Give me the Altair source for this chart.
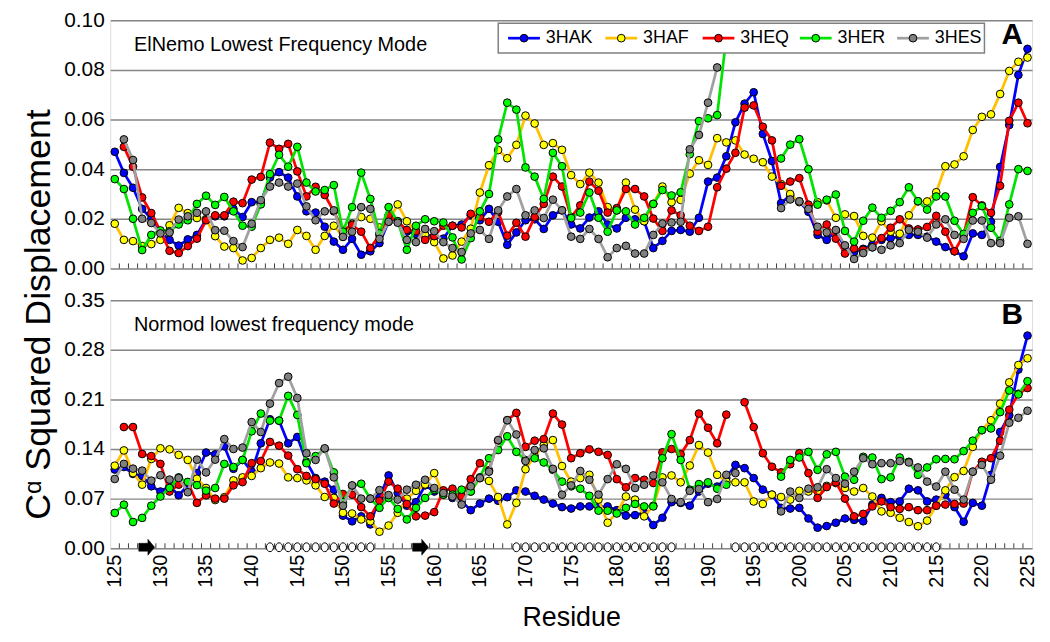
import altair as alt
import pandas as pd

residues = list(range(125, 226))
series_names = ["3HAK", "3HAF", "3HEQ", "3HER", "3HES"]
line_colors = ["#0000FF", "#FFC000", "#FF0000", "#00E400", "#A0A0A0"]
fill_colors = ["#0000FF", "#FFFF00", "#FF0000", "#00FF00", "#808080"]

N = None
# ---------------- Panel A : ElNemo lowest frequency mode ----------------
a_3HAK = [.047, .0385, .0325, .024, .020, .0145, .0115, .0092, .0117, .0135,
          .0198, .021, .021, .024, .0207, .0267, .0267, .0366, .0388, .0366,
          .029, .023, .0225, .0168, .0108, .0075, .0119, .0055, .0069, .0102,
          .0188, .019, .0148, .0139, .0135, .0128, .012, .0172, .0177, .0214,
          .0194, .024, .0188, .0095, .0145, .0194, .0198, .0159, .0214, .0234,
          .0177, .0161, .0205, .023, .0177, .0161, .0204, .0198, .019, .0082,
          .0111, .0151, .0155, .0148, .0204, .035, .0366, .0452, .0589, .0664,
          .071, .0542, .0433, .0263, .0294, .027, .0228, .0135, .0115, .0152,
          .0082, .0066, .0079, .0095, .0115, .0122, .0128, .0135, .0135, .0128,
          .0108, .0086, .0069, .0049, .0141, .0135, .0188, .0409, .0578, .078,
          .0885]
a_3HAF = [.018, .0115, .011, .009, .0098, .0115, .0174, .0244, .0223, .0203,
          .0198, .013, .0088, .0082, .0032, .0042, .0082, .0115, .0124, .0099,
          .0155, .0131, .0075, .0131, .0172, .0128, .018, .0207, .020, .0165,
          .019, .0258, .019, .015, .0135, .0106, .004, .0052, .0108, .016,
          .0306, .0416, .0477, .0444, .0498, .0616, .0584, .0498, .0505, .0478,
          .0376, .034, .0386, .0346, .0247, .0234, .0346, .0237, .019, .026,
          .033, .0267, .0276, .0382, .0436, .0417, .0525, .0508, .0516, .0459,
          .0442, .0428, .037, .034, .030, .0267, .025, .0267, .0274, .0204,
          .0218, .0211, .0131, .0124, .019, .0148, .014, .0214, .027, .027,
          .0307, .0412, .0419, .0452, .0558, .0611, .0621, .0703, .0796, .0833,
          .085]
a_3HEQ = [N, .049, .041, .0286, .0223, .015, .0071, .0062, .009, .012,
          .0194, .0214, .0214, .0269, .0263, .0358, .0369, .0507, .0482, .0502,
          .0391, .029, .0329, .0296, .023, .0155, .0175, .0148, .0082, .0135,
          .0214, .0188, .0155, .015, .0115, .013, .0172, .0172, .0165, .022,
          .0207, .0188, .0227, .0132, .0184, .0128, .0207, .026, .037, .033,
          .0207, .0254, .035, .0313, .0225, .0243, .032, .032, .029, .0201,
          .0151, .0234, .0214, .0172, .0151, .0168, .0327, .0402, .0466, .0648,
          .0657, .0571, .0516, .0333, .035, .0364, .0257, .0148, .0177, .012,
          .006, .008, .0075, .0085, .0122, .0164, .0198, .0161, .0157, .0167,
          .0212, .0148, .0069, .0135, .0287, .0254, .0224, .0333, .0595, .0668,
          .0585]
a_3HER = [.036, .032, .020, .0074, .0135, .0153, .015, .0177, .0194, .026,
          .0293, .0256, .0288, .023, .0172, .0168, .0258, .038, .0458, .041,
          .049, .0346, .031, .0316, .0336, .0148, .0247, .0386, .028, .0141,
          .0247, .019, .0075, .0172, .0198, .019, .0185, .0125, .0036, .0122,
          .023, .030, .052, .0668, .064, .0407, .037, .028, .0466, .0412,
          .0203, .0225, .0306, .0204, .0148, .0234, .023, .0177, .0204, .026,
          .0316, .0294, .0307, .046, .0594, .0605, .0618, .093, N, N,
          N, N, N, .0443, .0499, .0521, .040, .0257, .0277, .0298,
          .0151, .0108, .0192, .0245, .0204, .0232, .0267, .0327, .0271, .0237,
          .029, .029, .0192, .0139, .0224, .0251, .0164, .0111, .0258, .040,
          .0393]
a_3HES = [N, .052, .0437, .020, .0183, .0141, .0145, .0197, .021, .0224,
          .023, .0154, .0152, .011, .0086, .018, .0275, .033, .0346, .033,
          .0342, .025, .0194, .023, .0234, .0127, .0148, .0247, .024, .0119,
          .0188, .0184, .0115, .0106, .0159, .015, .0106, .0082, .0066, .0141,
          .0155, .0119, .0234, .029, .032, .0214, .0234, .0203, .0277, .0234,
          .0128, .0119, .0159, .0119, .0045, .0082, .0091, .006, .006, .0135,
          .0181, .0185, .0188, .048, .0538, .0668, .081, N, N, N,
          N, N, N, .0243, .0278, .027, .024, .0168, .0145, .0155,
          .0093, .0038, .0062, .0085, .0075, .0093, .0102, .0155, .0148, .0124,
          .0177, .0198, .0135, .0119, .0193, .0193, .0102, .0102, .0204, .021,
          .0099]

# ---------------- Panel B : Normod lowest frequency mode ----------------
b_3HAK = [.111, .1146, .1048, .102, .0874, .080, .0874, .0747, .089, .106,
          .135, .1325, .1438, .112, .1246, .108, .148, .182, .18, .148,
          .157, .122, .099, .094, .0826, .046, .038, .045, .0336, .072,
          .1027, .078, .060, .065, .0887, .080, .079, .071, .066, .0537,
          .063, .070, .067, .072, .0817, .080, .074, .0686, .063, .058,
          .056, .059, .059, .058, .059, .0537, .046, .0467, .050, .0327,
          .043, .065, .064, .060, .080, .091, .087, .099, .1176, .113,
          .099, .0826, .0756, .057, .056, .057, .042, .029, .0313, .036,
          .042, .040, .038, .0616, .071, .065, .066, .084, .0817, .066,
          .0686, .0756, .058, .0373, .064, .060, .1036, .164, .1876, .252,
          .30]
b_3HAF = [.1165, .138, .106, .0897, .126, .141, .1395, .1316, .1246, .098,
          .085, .068, .072, .0957, .10, .102, .113, .121, .1195, .10,
          .099, .0957, .0887, .0723, .071, .050, .049, .0406, .038, .0233,
          .032, .050, .070, .081, .09, .106, .0756, .0747, .072, .080,
          .099, .095, .0723, .0336, .064, .1115, .13, .1456, .1526, .116,
          .094, .099, .1036, .0686, .036, .050, .073, .0686, .045, .06,
          .10, .1027, .093, .1167, .1456, .135, .1036, .094, .093, .093,
          .066, .0625, .0756, .0723, .0686, .081, .080, .08, .088, .092,
          .085, .080, .085, .073, .052, .050, .043, .037, .031, .039,
          .060, .0817, .1003, .109, .143, .1666, .1806, .204, .234, .2585,
          .268]
b_3HEQ = [N, .171, .171, .133, .13, .119, .080, .0897, .093, .064,
          .0747, .070, .070, .0887, .0933, .120, .123, .150, .1447, .1307,
          .1115, .102, .0975, .091, .063, .0765, .0756, .058, .045, .067,
          .094, .084, .0625, .045, .046, .051, .0817, .084, .073, .0975,
          .12, .11, .1517, .1806, .191, .143, .1517, .154, .19, .1745,
          .127, .134, .1395, .136, .1316, .0975, .0859, .099, .0966, .092,
          .1353, .14, .1325, .1526, .19, .17, .148, .1885, N, .206,
          .171, .134, .115, .107, .1185, .134, .106, .071, .0863, .093,
          .070, .045, .0485, .059, .066, .058, .0555, .058, .0537, .0537,
          .060, .0616, .0625, .063, .108, .122, .127, .1517, .1955, .218,
          .226]
b_3HER = [.0498, .0615, .037, .0428, .060, .073, .085, .100, .0935, .089,
          .0813, .085, .119, .1146, .1246, .165, .19, .18, .18, .215,
          .188, .12, .13, .14, .107, .065, .088, .091, .07, .057,
          .071, .0555, .0406, .057, .071, .0826, .0756, .0756, .0826, .080,
          .10, .127, .1386, .158, .136, .1246, .127, .121, .1106, .094,
          .0873, .084, .074, .053, .053, .049, .057, .0625, .059, .059,
          .127, .161, .1246, .0826, .0905, .093, .084, .0896, N, N,
          N, N, N, .101, .1246, .128, .136, .1106, .1325, .136,
          .101, .0966, .129, .128, .0975, .10, .128, .122, .1036, .114,
          .1255, .126, .1255, .137, .1517, .1666, .169, .192, .2226, .217,
          .2357]
b_3HES = [.0977, .119, .1123, .1095, .0954, .103, .0968, .099, .079, .125,
          .107, .125, .154, .14, .142, .178, .164, .204, .233, .242,
          .212, .134, .1246, .141, .10, .060, .0887, .07, .07, .082,
          .075, .0686, .0826, .0896, .0966, .085, .078, .073, .0616, .0873,
          .099, .108, .1526, .1806, .1605, .123, .1386, .141, .112, .0756,
          .0887, .109, .0966, .0756, .0975, .1185, .112, .085, .0896, .1027,
          .093, .0695, .065, .081, .0835, .065, .0695, .1036, .106, N,
          N, N, N, .052, .080, .071, .084, .086, .1115, .099,
          .091, .108, .127, .1185, .12, .12, .123, .121, .114, .094,
          .087, .108, .0826, .0686, .108, .1176, .0966, .1306, .177, .184,
          .194]

# secondary structure (residue ranges)
helix_start = [142, 169, 193]
helix_end = [153, 186, 215]
strand_start = [128, 158]
strand_end = [129, 159]

x_labels = list(range(125, 226, 5))
yA_ticks = [0.0, 0.02, 0.04, 0.06, 0.08, 0.10]
yB_ticks = [0.0, 0.07, 0.14, 0.21, 0.28, 0.35]

FONT = "Liberation Sans"
W = 929
HA = 250
HB = 250

xscale = alt.Scale(domain=[124.5, 225.5], nice=False, zero=False)
x_axis_B = alt.Axis(values=x_labels, labelAngle=270, labelFontSize=20, labelPadding=6,
                    ticks=False, domain=False, grid=False, title="Residue",
                    titleFontSize=27, titleFontWeight="normal", titleY=57,
                    labelColor="black", titleColor="black")


def build_panel(cols, ymax, yticks, H, bottom, title_text, letter, letter_y, ytitle):
    df = pd.DataFrame({"residue": residues})
    for n, c in zip(series_names, cols):
        df[n] = c
    xaxis = x_axis_B if bottom else None
    if ytitle:
        yaxis = alt.Axis(values=yticks, format=".2f", labelFontSize=21, labelPadding=6,
                         ticks=False, domain=False, grid=True, gridColor="#868686",
                         gridWidth=1.5, title=ytitle, titleFontSize=36,
                         titleFontWeight="normal", titleX=-53, titleY=296,
                         titleAngle=270, titleBaseline="bottom", titleAlign="center",
                         labelColor="black", titleColor="black")
    else:
        yaxis = alt.Axis(values=yticks, format=".2f", labelFontSize=21, labelPadding=6,
                         ticks=False, domain=False, grid=True, gridColor="#868686",
                         gridWidth=1.5, title="", labelColor="black")
    yscale = alt.Scale(domain=[0, ymax], nice=False, zero=True)
    base = alt.Chart(df)
    X = alt.X("residue:Q", scale=xscale, axis=xaxis)
    layers = []
    # tick marks between residues (category-axis style)
    layers.append(
        base.transform_filter("datum.residue < 225")
        .transform_calculate(tpos="datum.residue + 0.5")
        .mark_rule(color="#404040", strokeWidth=1)
        .encode(x=alt.X("tpos:Q", scale=xscale, axis=xaxis),
                y=alt.value(H), y2=alt.value(H - 5))
    )
    for i, n in enumerate(series_names):
        Y = alt.Y(f"{n}:Q", scale=yscale, axis=yaxis)
        layers.append(base.mark_line(color=line_colors[i], strokeWidth=2.75,
                                     invalid="break-paths-show-domains")
                      .encode(x=X, y=Y))
        layers.append(base.mark_circle(size=60, fill=fill_colors[i], stroke="black",
                                       strokeWidth=1, opacity=1)
                      .encode(x=X, y=Y))
    if bottom:
        hel = []
        for s, e in zip(helix_start, helix_end):
            hel.extend(range(s, e + 1))
        hdf = pd.DataFrame({"h": hel})
        layers.append(alt.Chart(hdf).mark_point(
            shape="M0,-1 A0.8,1 0 1,1 0,1 A0.8,1 0 1,1 0,-1 Z",
            size=80, filled=True, fill="white", stroke="black", strokeWidth=1, opacity=1)
            .encode(x=alt.X("h:Q", scale=xscale, axis=xaxis), y=alt.value(H - 1)))
        sdf = pd.DataFrame({"s": strand_start, "e": strand_end})
        layers.append(alt.Chart(sdf).transform_calculate(mid="(datum.s + datum.e) / 2")
                      .mark_point(shape="M-1,-0.5 L0.15,-0.5 L0.15,-1 L1,0 L0.15,1 L0.15,0.5 L-1,0.5 Z",
                                  size=256, filled=True, fill="black", stroke="black",
                                  strokeWidth=0.5, opacity=1)
                      .encode(x=alt.X("mid:Q", scale=xscale, axis=xaxis), y=alt.value(H - 1)))
    # panel caption
    layers.append(alt.Chart(pd.DataFrame({"t": [title_text]})).mark_text(
        align="left", baseline="middle", fontSize=20, font=FONT, color="black")
        .encode(x=alt.value(24), y=alt.value(25), text="t:N"))
    layers.append(alt.Chart(pd.DataFrame({"t": [letter]})).mark_text(
        align="center", baseline="middle", fontSize=30, fontWeight="bold", font=FONT, color="black")
        .encode(x=alt.value(909), y=alt.value(letter_y), text="t:N"))
    if not bottom:
        # legend box
        layers.append(alt.Chart(pd.DataFrame({"t": ["legend"]})).mark_rect(
            fill="white", stroke="#808080", strokeWidth=1.5)
            .encode(x=alt.value(391), x2=alt.value(881), y=alt.value(3), y2=alt.value(33)))
        for i, n in enumerate(series_names):
            cx = 417 + 98 * i
            one = alt.Chart(pd.DataFrame({"t": [n]}))
            layers.append(one.mark_rule(color=line_colors[i], strokeWidth=2.75)
                          .encode(x=alt.value(cx - 16), x2=alt.value(cx + 16), y=alt.value(18)))
            layers.append(one.mark_circle(size=60, fill=fill_colors[i], stroke="black",
                                          strokeWidth=1, opacity=1)
                          .encode(x=alt.value(cx), y=alt.value(18)))
            layers.append(one.mark_text(align="left", baseline="middle", fontSize=18,
                                        font=FONT, color="black")
                          .encode(x=alt.value(cx + 22), y=alt.value(18), text="t:N"))
    return alt.layer(*layers).properties(width=W, height=H)


panelA = build_panel([a_3HAK, a_3HAF, a_3HEQ, a_3HER, a_3HES], 0.10, yA_ticks, HA, False,
                     "ElNemo Lowest Frequency Mode", "A", 15, "C\u1d45 Squared Displacement")
panelB = build_panel([b_3HAK, b_3HAF, b_3HEQ, b_3HER, b_3HES], 0.35, yB_ticks, HB, True,
                     "Normod lowest frequency mode", "B", 15, None)

chart = (alt.vconcat(panelA, panelB, spacing=32, bounds="flush")
         .properties(padding={"left": 12, "top": -2, "right": 4, "bottom": 0},
                     background="white")
         .configure_view(stroke="#868686", strokeWidth=2)
         .configure(font=FONT))

chart.save("out.html", embed_options={"renderer": "svg", "actions": False})
